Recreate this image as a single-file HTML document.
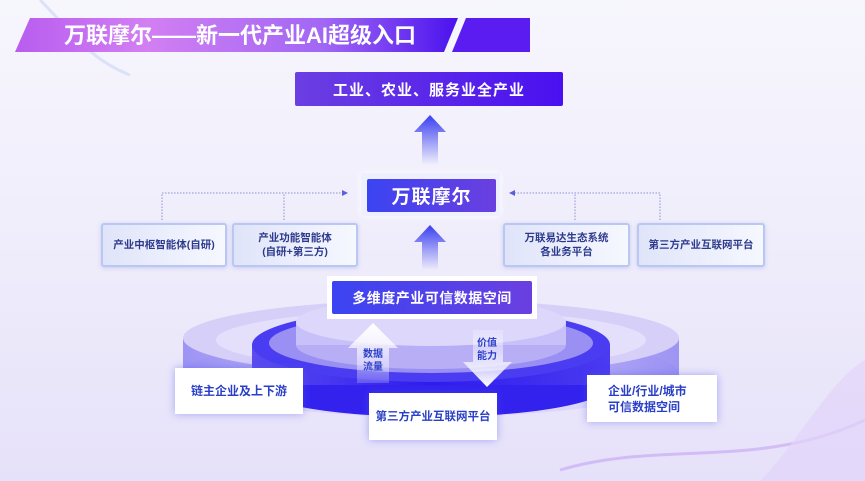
<!DOCTYPE html>
<html><head><meta charset="utf-8"><style>
*{margin:0;padding:0;box-sizing:border-box}
body{width:865px;height:481px;overflow:hidden;position:relative;font-family:"Liberation Sans","Noto Sans CJK SC",sans-serif;font-weight:bold;background:linear-gradient(180deg,#f7f6fd 0%,#efedfb 50%,#e6e1fa 100%)}
.a{position:absolute}
.box{position:absolute;display:flex;align-items:center;justify-content:center;text-align:center}
.side{background:linear-gradient(90deg,#dfe4f9,#f6f8ff);border:2px solid #b8c8f2;border-radius:3px;color:#2d3a8c;font-size:10.5px;line-height:14px;box-shadow:0 1px 4px rgba(120,130,220,.3)}
.wb{background:#fff;color:#2a3fc8;font-size:12px;line-height:16px;box-shadow:0 0 8px rgba(80,90,230,.45)}
</style></head><body>
<svg class="a" style="left:0;top:0" width="865" height="481">
<defs>
<linearGradient id="ban" x1="0" x2="1"><stop offset="0" stop-color="#b85df0"/><stop offset=".3" stop-color="#d27ff2"/><stop offset=".7" stop-color="#a066f4"/><stop offset="1" stop-color="#4a12ee"/></linearGradient>
<linearGradient id="up" x1="0" y1="0" x2="0" y2="1"><stop offset="0" stop-color="#3a3ff0"/><stop offset="1" stop-color="#3a3ff0" stop-opacity="0"/></linearGradient>
<linearGradient id="ring" x1="0" x2="1"><stop offset="0" stop-color="#5a4cf0"/><stop offset=".5" stop-color="#2e1cee"/><stop offset="1" stop-color="#4a3af0"/></linearGradient>
<linearGradient id="outer" x1="0" x2="1"><stop offset="0" stop-color="#8a7ff2"/><stop offset=".5" stop-color="#d8d2fa"/><stop offset="1" stop-color="#8a7ff2"/></linearGradient>
<linearGradient id="wa" x1="0" y1="0" x2="0" y2="1"><stop offset="0" stop-color="#fff"/><stop offset="1" stop-color="#fff" stop-opacity=".2"/></linearGradient>
<linearGradient id="wd" x1="0" y1="0" x2="0" y2="1"><stop offset="0" stop-color="#fff" stop-opacity=".2"/><stop offset="1" stop-color="#fff"/></linearGradient>
</defs>
<path d="M40,0 C70,30 90,60 130,75" stroke="#d0d8f8" stroke-width="3" fill="none" opacity=".7"/>
<path d="M560,470 C660,440 760,470 865,420" stroke="#c4a4f4" stroke-width="3" fill="none" opacity=".6"/>
<path d="M760,481 C800,440 830,380 865,360 L865,481Z" fill="#e2d4fa" opacity=".7"/>
<polygon points="30,18 458,18 444,52 15,52" fill="url(#ban)"/>
<polygon points="466,18 530,18 530,52 452,52" fill="#5a1cf0"/>
<text x="240" y="43" font-size="22" fill="#fff" text-anchor="middle" font-family="Liberation Sans,Noto Sans CJK SC,sans-serif" font-weight="bold">万联摩尔——新一代产业AI超级入口</text>
<polygon points="430,115 446,132 438,132 438,165 422,165 422,132 414,132" fill="url(#up)"/>
<polygon points="430,225 446,242 438,242 438,270 422,270 422,242 414,242" fill="url(#up)"/>
<g stroke="#8a8fd8" stroke-width="1" stroke-dasharray="1.5,1.5" fill="none">
<path d="M162,220 V193 H342"/><path d="M284,220 V193"/>
<path d="M660,220 V193 H515"/><path d="M575,220 V193"/>
</g>
<polygon points="348,193 342,190 342,196" fill="#5a60d8"/>
<polygon points="509,193 515,190 515,196" fill="#5a60d8"/>
<!-- outer translucent ring -->
<ellipse cx="431" cy="375" rx="248" ry="42" fill="#dcd6fa"/>
<rect x="183" y="338" width="496" height="37" fill="url(#outer)" opacity=".8"/>
<ellipse cx="431" cy="338" rx="248" ry="38" fill="#d6d0f9"/>
<ellipse cx="431" cy="340" rx="215" ry="30" fill="#e4e0fb"/>
<!-- blue ring -->
<ellipse cx="431" cy="385" rx="179" ry="32" fill="#3322ee"/>
<rect x="252" y="345" width="358" height="40" fill="url(#ring)"/>
<ellipse cx="431" cy="345" rx="179" ry="37" fill="#4a3cf0"/>
<ellipse cx="431" cy="343" rx="162" ry="30" fill="#9a90f4"/>
<!-- inner disc -->
<ellipse cx="431" cy="345" rx="135" ry="24" fill="#b8aef6"/>
<rect x="296" y="322" width="270" height="23" fill="#c8c0f8"/>
<ellipse cx="431" cy="322" rx="135" ry="24" fill="#dcd7fb"/>
<polygon points="373,323 398,348 389,348 389,383 357,383 357,348 348,348" fill="url(#wa)"/>
<polygon points="487,387 512,362 503,362 503,330 473,330 473,362 463,362" fill="url(#wd)"/>
<text x="373" y="357" font-size="10" fill="#2a3fc8" font-weight="bold" text-anchor="middle" font-family="Liberation Sans,Noto Sans CJK SC,sans-serif">数据</text>
<text x="373" y="370" font-size="10" fill="#2a3fc8" font-weight="bold" text-anchor="middle" font-family="Liberation Sans,Noto Sans CJK SC,sans-serif">流量</text>
<text x="487" y="346" font-size="10" fill="#2a3fc8" font-weight="bold" text-anchor="middle" font-family="Liberation Sans,Noto Sans CJK SC,sans-serif">价值</text>
<text x="487" y="359" font-size="10" fill="#2a3fc8" font-weight="bold" text-anchor="middle" font-family="Liberation Sans,Noto Sans CJK SC,sans-serif">能力</text>
</svg>
<div class="box" style="left:295px;top:72px;width:268px;height:34px;background:linear-gradient(90deg,#6b3fe2,#4a10f0);border-radius:2px;color:#fff;font-size:15px;letter-spacing:1px">工业、农业、服务业全产业</div>
<div class="a" style="left:361px;top:173px;width:139px;height:43px;background:#eef0ff;box-shadow:0 0 6px #fff"></div>
<div class="box" style="left:367px;top:179px;width:129px;height:33px;background:linear-gradient(90deg,#3b44f2,#6a3fe0);border-radius:2px;color:#fff;font-size:19px;letter-spacing:1px">万联摩尔</div>
<div class="box side" style="left:101px;top:223px;width:126px;height:44px">产业中枢智能体(自研)</div>
<div class="box side" style="left:232px;top:223px;width:126px;height:44px">产业功能智能体<br>(自研+第三方)</div>
<div class="box side" style="left:503px;top:223px;width:127px;height:44px">万联易达生态系统<br>各业务平台</div>
<div class="box side" style="left:637px;top:223px;width:128px;height:44px">第三方产业互联网平台</div>
<div class="a" style="left:327px;top:276px;width:210px;height:43px;background:#fff"></div>
<div class="box" style="left:332px;top:281px;width:200px;height:33px;background:linear-gradient(90deg,#3b44f2,#6a3fe0);border-radius:2px;color:#fff;font-size:14px;letter-spacing:.5px">多维度产业可信数据空间</div>
<div class="box wb" style="left:175px;top:368px;width:128px;height:46px">链主企业及上下游</div>
<div class="box wb" style="left:369px;top:393px;width:128px;height:47px;font-size:11.5px">第三方产业互联网平台</div>
<div class="box wb" style="left:587px;top:375px;width:130px;height:47px;justify-content:flex-start;padding-left:21px;text-align:left">企业/行业/城市<br>可信数据空间</div>
</body></html>
